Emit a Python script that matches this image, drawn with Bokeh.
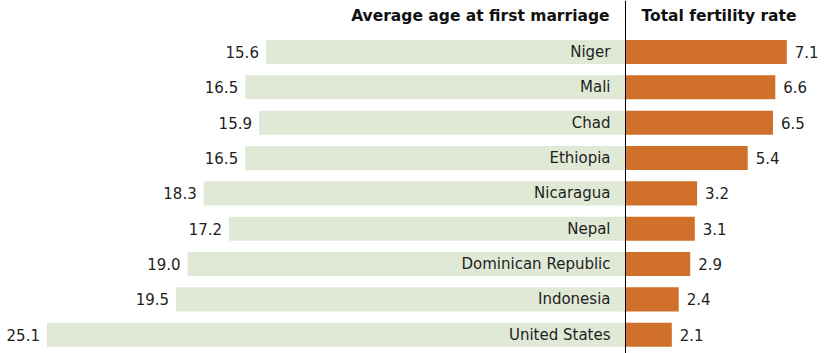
from bokeh.plotting import figure
from bokeh.models import Range1d, Span, Label, ColumnDataSource
from bokeh.core.properties import value
from bokeh.embed import file_html
from bokeh.resources import INLINE

countries = ["Niger", "Mali", "Chad", "Ethiopia", "Nicaragua", "Nepal",
             "Dominican Republic", "Indonesia", "United States"]
age_first_marriage = [15.6, 16.5, 15.9, 16.5, 18.3, 17.2, 19.0, 19.5, 25.1]
fertility_rate = [7.1, 6.6, 6.5, 5.4, 3.2, 3.1, 2.9, 2.4, 2.1]
header_left = "Average age at first marriage"
header_right = "Total fertility rate"

idx = list(range(len(countries)))
src = ColumnDataSource(dict(
    y=idx,
    country=countries,
    age=age_first_marriage,
    neg_age=[-a for a in age_first_marriage],
    tfr=fertility_rate,
    age_lbl=[f"{a:.1f}" for a in age_first_marriage],
    tfr_lbl=[f"{t:.1f}" for t in fertility_rate],
))

W, H = 824, 353
p = figure(width=W, height=H, output_backend="svg", toolbar_location=None,
           x_range=Range1d(-27.115, 8.633), y_range=Range1d(8.531, -1.457),
           x_axis_location=None, y_axis_location=None, min_border=0)
p.extra_x_ranges = {"tfr": Range1d(-27.087, 8.739)}
p.grid.visible = False
p.outline_line_color = None
p.background_fill_color = "white"

GREEN = "#e0e9d6"
ORANGE = "#d0702a"
TXT = "#1e1e1e"
FONT = value("DejaVu Sans")

p.hbar(y="y", left=0, right="tfr", height=0.68, source=src, x_range_name="tfr",
       fill_color=ORANGE, line_color=None)
p.hbar(y="y", left="neg_age", right=0, height=0.68, source=src,
       fill_color=GREEN, line_color=None)

p.text(x="neg_age", y="y", text="age_lbl", source=src, text_align="right",
       text_baseline="middle", x_offset=-7, text_font=FONT,
       text_font_size="15px", text_color=TXT)
p.text(x=0, y="y", text="country", source=src, text_align="right",
       text_baseline="middle", x_offset=-15, text_font=FONT,
       text_font_size="15px", text_color=TXT)
p.text(x="tfr", y="y", text="tfr_lbl", source=src, x_range_name="tfr",
       text_align="left", text_baseline="middle", x_offset=8, text_font=FONT,
       text_font_size="15px", text_color=TXT)

p.add_layout(Span(location=0, dimension="height", line_color="black", line_width=1))

p.add_layout(Label(x=0, y=H - 15, y_units="screen", x_offset=-16, text=header_left,
                   text_align="right", text_baseline="middle", text_font="DejaVu Sans",
                   text_font_style="bold", text_font_size="15.5px", text_color="#111111"))
p.add_layout(Label(x=0, y=H - 15, y_units="screen", x_offset=16, text=header_right,
                   text_align="left", text_baseline="middle", text_font="DejaVu Sans",
                   text_font_style="bold", text_font_size="15.5px", text_color="#111111"))

open("out.html", "w").write(file_html(p, INLINE))
